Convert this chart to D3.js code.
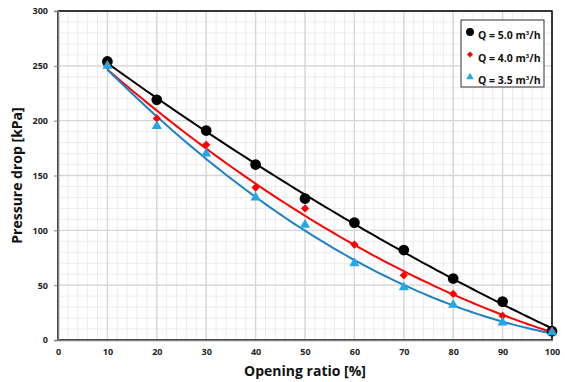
<!DOCTYPE html>
<html>
<head>
<meta charset="utf-8">
<script src="https://cdn.jsdelivr.net/npm/d3@7"></script>
<style>
  body { margin: 0; background: #fff; }
  text { font-family: "Open Sans", "DejaVu Sans", sans-serif; font-weight: bold; }
</style>
</head>
<body>
<div id="wrapper"></div>
<script>
// data
const openingRatio = [10, 20, 30, 40, 50, 60, 70, 80, 90, 100] ;
const q50 = [254, 219, 191, 160, 129, 107, 82, 56, 35, 8] ;
const q40 = [250, 202, 178, 139, 120, 87, 59, 42, 22, 8] ;
const q35 = [250, 195, 170, 130, 105, 70, 48, 32, 16, 7] ;
const seriesNames = ["Q = 5.0", "Q = 4.0", "Q = 3.5"] ;
const xTicks = [0, 10, 20, 30, 40, 50, 60, 70, 80, 90, 100] ;
const yTicks = [0, 50, 100, 150, 200, 250, 300] ;

const series = [
  {name: seriesNames[0], values: q50, line: "#000000", fill: "#000000", shape: d3.symbolCircle, size: 90, rot: 0},
  {name: seriesNames[1], values: q40, line: "#ff0000", fill: "#ff0000", shape: d3.symbolSquare, size: 34, rot: 45},
  {name: seriesNames[2], values: q35, line: "#1f80c8", fill: "#22a8e6", shape: d3.symbolTriangle, size: 45, rot: 0},
] ;

// quadratic least-squares trendline (like the spreadsheet one)
function polyFit2(xs, ys) {
  let n = xs.length, sx = 0, sx2 = 0, sx3 = 0, sx4 = 0, sy = 0, sxy = 0, sx2y = 0 ;
  for (let i = 0; i < n; i++) {
    const x = xs[i], y = ys[i] ;
    sx += x ; sx2 += x*x ; sx3 += x*x*x ; sx4 += x*x*x*x ;
    sy += y ; sxy += x*y ; sx2y += x*x*y ;
  }
  // solve 3x3 by Cramer
  const A = [[n, sx, sx2], [sx, sx2, sx3], [sx2, sx3, sx4]] ;
  const B = [sy, sxy, sx2y] ;
  const det = (m) => m[0][0]*(m[1][1]*m[2][2]-m[1][2]*m[2][1])
    - m[0][1]*(m[1][0]*m[2][2]-m[1][2]*m[2][0])
    + m[0][2]*(m[1][0]*m[2][1]-m[1][1]*m[2][0]) ;
  const D = det(A) ;
  const coef = [0, 1, 2].map((k) => {
    const M = A.map((row, i) => row.map((v, j) => j == k ? B[i] : v)) ;
    return det(M) / D ;
  }) ;
  return (x) => coef[0] + coef[1]*x + coef[2]*x*x ;
}

let dimensions = {
  width: 565,
  height: 382,
  margin: {top: 11, right: 13, bottom: 42, left: 58},
}
dimensions.boundedWidth = dimensions.width - dimensions.margin.left - dimensions.margin.right
dimensions.boundedHeight = dimensions.height - dimensions.margin.top - dimensions.margin.bottom

const svg = d3.select("#wrapper").append("svg")
  .attr("width", dimensions.width)
  .attr("height", dimensions.height) ;

const bounds = svg.append("g")
  .attr("transform", `translate(${dimensions.margin.left}, ${dimensions.margin.top})`) ;

const xScale = d3.scaleLinear().domain([0, 100]).range([0, dimensions.boundedWidth]) ;
const yScale = d3.scaleLinear().domain([0, 300]).range([dimensions.boundedHeight, 0]) ;

// minor grid
bounds.append("g").selectAll("line")
  .data(d3.range(0, 101, 2))
  .join("line")
    .attr("x1", (d) => xScale(d)).attr("x2", (d) => xScale(d))
    .attr("y1", 0).attr("y2", dimensions.boundedHeight)
    .attr("stroke", "#ececec").attr("stroke-width", 1) ;
bounds.append("g").selectAll("line")
  .data(d3.range(0, 301, 10))
  .join("line")
    .attr("x1", 0).attr("x2", dimensions.boundedWidth)
    .attr("y1", (d) => yScale(d)).attr("y2", (d) => yScale(d))
    .attr("stroke", "#ececec").attr("stroke-width", 1) ;

// major grid
bounds.append("g").selectAll("line")
  .data(xTicks)
  .join("line")
    .attr("x1", (d) => xScale(d)).attr("x2", (d) => xScale(d))
    .attr("y1", 0).attr("y2", dimensions.boundedHeight)
    .attr("stroke", "#d6d6d6").attr("stroke-width", 1.3) ;
bounds.append("g").selectAll("line")
  .data(yTicks)
  .join("line")
    .attr("x1", 0).attr("x2", dimensions.boundedWidth)
    .attr("y1", (d) => yScale(d)).attr("y2", (d) => yScale(d))
    .attr("stroke", "#d6d6d6").attr("stroke-width", 1.3) ;

// plot border
bounds.append("rect")
  .attr("x", 0).attr("y", 0)
  .attr("width", dimensions.boundedWidth).attr("height", dimensions.boundedHeight)
  .attr("fill", "none").attr("stroke", "#000").attr("stroke-width", 1.5) ;

// axes
const xAxis = bounds.append("g")
  .attr("transform", `translate(0, ${dimensions.boundedHeight})`)
  .call(d3.axisBottom(xScale).tickValues(xTicks).tickSize(0).tickPadding(9)) ;
const yAxis = bounds.append("g")
  .call(d3.axisLeft(yScale).tickValues(yTicks).tickSize(4).tickPadding(6)) ;
[xAxis, yAxis].forEach((ax) => {
  ax.select(".domain").attr("stroke", "#7f7f7f").attr("stroke-width", 1.5) ;
  ax.selectAll(".tick line").attr("stroke", "#7f7f7f") ;
  ax.selectAll("text").attr("font-size", 9).attr("fill", "#222")
    .style("font-family", "'Open Sans', sans-serif").style("font-weight", "bold") ;
}) ;

// trendlines
const lineGen = d3.line().x((d) => xScale(d[0])).y((d) => yScale(d[1])) ;
series.forEach((s) => {
  const f = polyFit2(openingRatio, s.values) ;
  const pts = d3.range(10, 100.01, 1).map((x) => [x, f(x)]) ;
  bounds.append("path")
    .attr("d", lineGen(pts))
    .attr("fill", "none")
    .attr("stroke", s.line)
    .attr("stroke-width", 2) ;
}) ;

// markers
series.forEach((s) => {
  bounds.append("g").selectAll("path")
    .data(openingRatio.map((x, i) => [x, s.values[i]]))
    .join("path")
      .attr("transform", (d) => `translate(${xScale(d[0])}, ${yScale(d[1])}) rotate(${s.rot})`)
      .attr("d", d3.symbol().type(s.shape).size(s.size))
      .attr("fill", s.fill) ;
}) ;

// axis titles
svg.append("text")
  .attr("x", dimensions.margin.left + dimensions.boundedWidth / 2)
  .attr("y", 376)
  .attr("text-anchor", "middle")
  .attr("font-size", 14)
  .attr("fill", "#111")
  .text("Opening ratio [%]") ;
svg.append("text")
  .attr("transform", `translate(22, ${dimensions.margin.top + dimensions.boundedHeight / 2}) rotate(-90)`)
  .attr("text-anchor", "middle")
  .attr("font-size", 14)
  .attr("fill", "#111")
  .text("Pressure drop [kPa]") ;

// legend
const legend = svg.append("g").attr("transform", "translate(461, 20)") ;
legend.append("rect")
  .attr("width", 83).attr("height", 67)
  .attr("fill", "#fff").attr("stroke", "#333").attr("stroke-width", 1) ;
series.forEach((s, i) => {
  const y = 12 + i * 22.5 ;
  legend.append("path")
    .attr("transform", `translate(9, ${y}) rotate(${s.rot})`)
    .attr("d", d3.symbol().type(s.shape).size(s.size * 0.55))
    .attr("fill", s.fill) ;
  const t = legend.append("text")
    .attr("x", 17).attr("y", y + 7)
    .attr("font-size", 10.5)
    .attr("fill", "#111") ;
  t.append("tspan").text(s.name + " m") ;
  t.append("tspan").attr("font-size", 6).attr("dy", -4).text("3") ;
  t.append("tspan").attr("dy", 4).text("/h") ;
}) ;
</script>
</body>
</html>
